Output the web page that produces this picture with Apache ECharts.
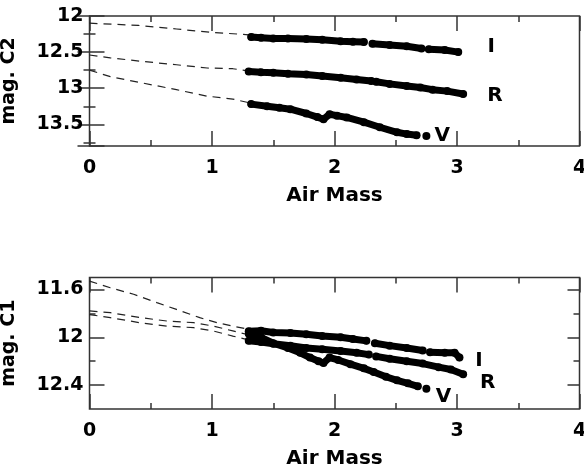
<!DOCTYPE html>
<html>
<head>
<meta charset="utf-8">
<style>
  html, body { margin: 0; padding: 0; background: #fff; }
  #chart { width: 584px; height: 469px; }
</style>
<script src="https://cdn.jsdelivr.net/npm/echarts@6/dist/echarts.min.js"></script>
</head>
<body>
<div id="chart"></div>
<script>
// upper panel (mag. C2): [air mass, magnitude], null = break in the run
var c2I = [[1.32,12.29],[1.40,12.30],[1.50,12.31],[1.62,12.31],[1.77,12.32],[1.90,12.33],[2.05,12.35],[2.15,12.355],[2.24,12.36],null,
           [2.31,12.385],[2.45,12.40],[2.59,12.42],[2.71,12.45],null,[2.77,12.46],[2.90,12.47],[3.01,12.50]];
var c2R = [[1.30,12.77],[1.40,12.78],[1.50,12.785],[1.62,12.80],[1.77,12.81],[1.90,12.83],[2.05,12.855],[2.18,12.88],[2.30,12.90],null,
           [2.34,12.91],[2.45,12.94],[2.59,12.97],[2.70,12.99],[2.80,13.02],[2.92,13.04],[3.05,13.08]];
var c2V = [[1.32,13.22],[1.45,13.25],[1.55,13.27],[1.64,13.29],[1.77,13.35],[1.86,13.40],[1.91,13.43],[1.96,13.36],[2.02,13.38],
           [2.10,13.405],[2.24,13.47],[2.37,13.54],[2.51,13.61],[2.59,13.635],[2.67,13.65],null,[2.75,13.66]];
// dashed extrapolations to air mass 0
var c2Idash = [[0,12.10],[0.40,12.13],[0.71,12.18],[0.98,12.225],[1.30,12.26]];
var c2Rdash = [[0,12.54],[0.17,12.58],[0.44,12.63],[0.71,12.675],[0.96,12.72],[1.17,12.73],[1.30,12.76]];
var c2Vdash = [[0,12.75],[0.17,12.84],[0.44,12.93],[0.71,13.02],[0.96,13.11],[1.17,13.15],[1.30,13.20]];

// lower panel (mag. C1)
var c1I = [[1.30,11.95],[1.40,11.945],[1.50,11.96],[1.64,11.965],[1.77,11.975],[1.90,11.99],[2.05,12.00],[2.15,12.015],[2.26,12.03],null,
           [2.33,12.05],[2.45,12.07],[2.59,12.09],[2.72,12.11],null,[2.78,12.125],[2.90,12.13],[2.98,12.13],[3.02,12.17]];
var c1R = [[1.30,12.03],[1.40,12.04],[1.50,12.055],[1.64,12.07],[1.77,12.09],[1.90,12.10],[2.05,12.115],[2.18,12.13],[2.28,12.145],null,
           [2.34,12.16],[2.45,12.18],[2.59,12.20],[2.72,12.22],[2.85,12.25],[2.95,12.27],[3.05,12.31]];
var c1V = [[1.30,11.97],[1.40,12.00],[1.50,12.05],[1.62,12.09],[1.72,12.13],[1.80,12.17],[1.87,12.20],[1.91,12.215],[1.96,12.17],
           [2.03,12.19],[2.13,12.225],[2.24,12.26],[2.32,12.29],[2.42,12.33],[2.51,12.36],[2.60,12.385],[2.68,12.41],null,[2.75,12.43]];
var c1Vdash = [[0,11.53],[0.17,11.586],[0.36,11.64],[0.55,11.71],[0.71,11.767],[0.90,11.836],[1.04,11.878],[1.17,11.906],[1.28,11.93]];
var c1Rdash = [[0,11.78],[0.17,11.794],[0.42,11.836],[0.63,11.864],[0.85,11.878],[1.01,11.906],[1.17,11.947],[1.28,11.975]];
var c1Idash = [[0,11.81],[0.17,11.836],[0.41,11.878],[0.63,11.906],[0.85,11.92],[1.01,11.947],[1.17,11.99],[1.28,12.017]];

// band names, placed in data space
var c2Names = [{name:'I', value:[3.28,12.42]},{name:'R', value:[3.31,13.11]},{name:'V', value:[2.88,13.66]}];
var c1Names = [{name:'I', value:[3.18,12.20]},{name:'R', value:[3.25,12.38]},{name:'V', value:[2.89,12.50]}];

// tick labels
var xTickStep = 1;
var c2Step = 0.5;
var c1Major = [11.6, 12, 12.4];
var c1Minor = [11.8, 12.2];

var FONT = 'DejaVu Sans';
var INK = '#000';
var FRAME = '#333';

var chart = echarts.init(document.getElementById('chart'));

function runs(arr) {
	var out = [], cur = [];
	arr.forEach(function (p) {
		if (p === null) { if (cur.length) out.push(cur); cur = []; }
		else cur.push(p);
	});
	if (cur.length) out.push(cur);
	return out;
}

function bandSeries(arr, xi, yi) {
	return runs(arr).map(function (seg) {
		return {
			type: 'line', xAxisIndex: xi, yAxisIndex: yi, data: seg,
			lineStyle: { width: 7, color: '#000', cap: 'round', join: 'round' },
			symbol: 'circle', symbolSize: 8, itemStyle: { color: '#000' },
			silent: true, animation: false
		};
	});
}

function dashSeries(arr, xi, yi) {
	return {
		type: 'line', xAxisIndex: xi, yAxisIndex: yi, data: arr,
		lineStyle: { width: 1.2, color: '#222', type: [8, 6] },
		symbol: 'none', silent: true, animation: false
	};
}

function nameSeries(arr, xi, yi) {
	return {
		type: 'scatter', xAxisIndex: xi, yAxisIndex: yi, data: arr,
		symbolSize: 0, silent: true, animation: false,
		itemStyle: { opacity: 1 },
		label: {
			show: true, position: 'inside', formatter: '{b}', opacity: 1,
			fontFamily: FONT, fontWeight: 'bold', fontSize: 20, color: INK, textBorderWidth: 0
		}
	};
}

function xAx(grid, pos, labels) {
	return {
		type: 'value', gridIndex: grid, position: pos, min: 0, max: 4, interval: xTickStep,
		name: labels ? 'Air Mass' : '', nameLocation: 'middle', nameGap: 40,
		nameTextStyle: { fontFamily: FONT, fontWeight: 'bold', fontSize: 20, color: INK },
		axisLine: { show: false },
		axisTick: { show: true, inside: true, length: 15, lineStyle: { color: FRAME, width: 1.5 } },
		minorTick: { show: true, splitNumber: 2, length: 6, lineStyle: { color: FRAME, width: 1.5 } },
		axisLabel: { show: labels, margin: 13, fontFamily: FONT, fontWeight: 'bold', fontSize: 19, color: INK },
		splitLine: { show: false }
	};
}

var option = {
	backgroundColor: '#fff',
	animation: false,
	grid: [
		{ left: 89.5, top: 16, width: 490, height: 130, show: true, borderColor: FRAME, borderWidth: 1.5,
		  backgroundColor: 'transparent', containLabel: false, outerBoundsMode: 'none' },
		{ left: 89.5, top: 277.5, width: 490, height: 131.5, show: true, borderColor: FRAME, borderWidth: 1.5,
		  backgroundColor: 'transparent', containLabel: false, outerBoundsMode: 'none' }
	],
	xAxis: [ xAx(0, 'bottom', true), xAx(0, 'top', false), xAx(1, 'bottom', true), xAx(1, 'top', false) ],
	yAxis: [
		{
			type: 'value', gridIndex: 0, position: 'left', inverse: true, min: 12, max: 13.8, interval: c2Step,
			name: 'mag. C2', nameLocation: 'middle', nameGap: 71, nameRotate: 90,
			nameTextStyle: { fontFamily: FONT, fontWeight: 'bold', fontSize: 19, color: INK },
			axisLine: { show: false },
			axisTick: { inside: true, length: 15, lineStyle: { color: FRAME, width: 1.5 } },
			minorTick: { show: true, splitNumber: 2, length: 6, lineStyle: { color: FRAME, width: 1.5 } },
			axisLabel: { margin: 6, showMaxLabel: false, fontFamily: FONT, fontWeight: 'bold', fontSize: 19, color: INK },
			splitLine: { show: false }
		},
		{
			type: 'value', gridIndex: 0, position: 'right', inverse: true, min: 12, max: 13.8, interval: c2Step,
			axisLine: { show: false },
			axisTick: { inside: true, length: 12, lineStyle: { color: FRAME, width: 1.5 } },
			minorTick: { show: true, splitNumber: 2, length: 6, lineStyle: { color: FRAME, width: 1.5 } },
			axisLabel: { show: false }, splitLine: { show: false }
		},
		{
			type: 'value', gridIndex: 1, position: 'left', inverse: true, min: 11.5, max: 12.6,
			name: 'mag. C1', nameLocation: 'middle', nameGap: 71, nameRotate: 90,
			nameTextStyle: { fontFamily: FONT, fontWeight: 'bold', fontSize: 19, color: INK },
			axisLine: { show: false },
			axisTick: { inside: true, length: 15, customValues: c1Major, lineStyle: { color: FRAME, width: 1.5 } },
			axisLabel: { margin: 6, customValues: c1Major, fontFamily: FONT, fontWeight: 'bold', fontSize: 19, color: INK },
			splitLine: { show: false }
		},
		{
			type: 'value', gridIndex: 1, position: 'left', inverse: true, min: 11.5, max: 12.6,
			axisLine: { show: false },
			axisTick: { inside: true, length: 6, customValues: c1Minor, lineStyle: { color: FRAME, width: 1.5 } },
			axisLabel: { show: false }, splitLine: { show: false }
		},
		{
			type: 'value', gridIndex: 1, position: 'right', inverse: true, min: 11.5, max: 12.6,
			axisLine: { show: false },
			axisTick: { inside: true, length: 12, customValues: c1Major, lineStyle: { color: FRAME, width: 1.5 } },
			axisLabel: { show: false }, splitLine: { show: false }
		},
		{
			type: 'value', gridIndex: 1, position: 'right', inverse: true, min: 11.5, max: 12.6,
			axisLine: { show: false },
			axisTick: { inside: true, length: 6, customValues: c1Minor, lineStyle: { color: FRAME, width: 1.5 } },
			axisLabel: { show: false }, splitLine: { show: false }
		}
	],
	series: [].concat(
		[dashSeries(c2Idash, 0, 0), dashSeries(c2Rdash, 0, 0), dashSeries(c2Vdash, 0, 0)],
		bandSeries(c2I, 0, 0), bandSeries(c2R, 0, 0), bandSeries(c2V, 0, 0),
		[nameSeries(c2Names, 0, 0)],
		[dashSeries(c1Idash, 2, 2), dashSeries(c1Rdash, 2, 2), dashSeries(c1Vdash, 2, 2)],
		bandSeries(c1I, 2, 2), bandSeries(c1R, 2, 2), bandSeries(c1V, 2, 2),
		[nameSeries(c1Names, 2, 2)]
	)
};

chart.setOption(option);
</script>
</body>
</html>
